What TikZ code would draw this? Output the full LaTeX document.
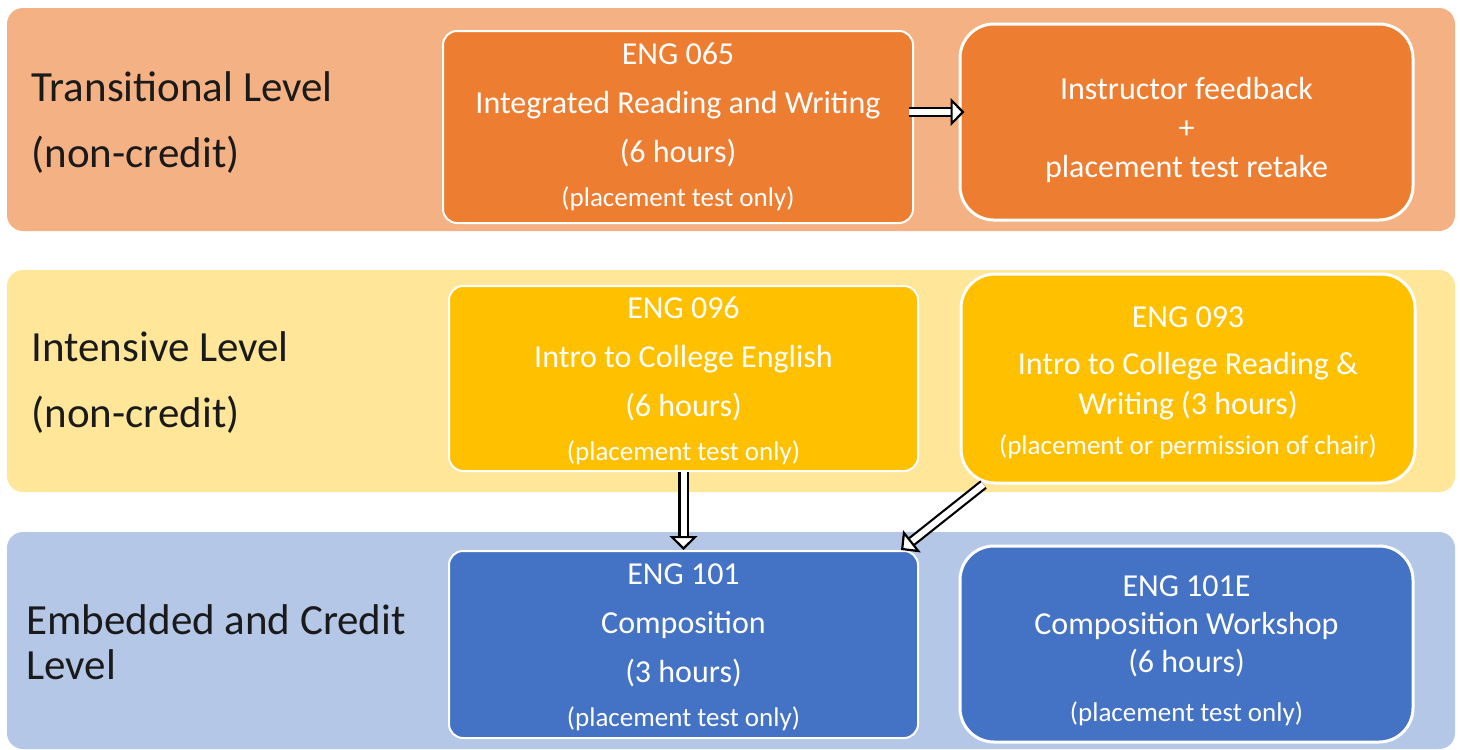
\documentclass[tikz,border=0pt]{standalone}
\usepackage{fontspec}
\setmainfont{Carlito}
\usetikzlibrary{arrows.meta}

\definecolor{bandorange}{HTML}{F4B183}
\definecolor{boxorange}{HTML}{ED7D31}
\definecolor{bandyellow}{HTML}{FFE699}
\definecolor{boxyellow}{HTML}{FFC000}
\definecolor{bandblue}{HTML}{B4C7E7}
\definecolor{boxblue}{HTML}{4472C4}
\definecolor{labeltext}{HTML}{1A1A1A}

\tikzset{
  band/.style={rounded corners=16pt},
  course/.style={draw=white, line width=2pt, rounded corners=14pt, inner sep=0pt},
  roundcourse/.style={course, line width=3pt, rounded corners=34pt},
  coursetext/.style={text=white, align=center, inner sep=0pt,
    font=\fontsize{32}{49}\selectfont},
  levellabel/.style={anchor=west, align=left, text=labeltext,
    font=\fontsize{43}{66}\selectfont},
  hollow/.style={draw=black, line width=2.2pt, double=white, double distance=6pt,
    -{Triangle[open, fill=white, length=14pt, width=28pt, line width=2.2pt]}},
}
\newcommand{\smallnote}[1]{{\fontsize{27}{30}\selectfont #1}}

\begin{document}
\begin{tikzpicture}[x=1pt,y=-1pt]
\useasboundingbox (0,0) rectangle (1460,750);

% level bands
\fill[band, bandorange] (7,8) rectangle (1455,231);
\fill[band, bandyellow] (7,270) rectangle (1455,492);
\fill[band, bandblue] (7,532) rectangle (1455,749);

% level names
\node[levellabel] (translabel) at (28,123) {Transitional Level\\(non-credit)};
\node[levellabel] (intenslabel) at (28,383) {Intensive Level\\(non-credit)};
\node[levellabel, font=\fontsize{43}{45}\selectfont] (credlabel) at (23,642)
  {Embedded and Credit\\Level};

% transitional
\node[course, fill=boxorange, minimum width=470pt, minimum height=192pt,
  label={[coursetext]center:{ENG 065\\Integrated Reading and Writing\\(6 hours)\\[-5pt]\smallnote{(placement test only)}}}]
  (e065) at (678,127) {};
\node[roundcourse, fill=boxorange, minimum width=453pt, minimum height=196pt,
  label={[coursetext, font=\fontsize{32}{39}\selectfont, yshift=-8pt]center:{Instructor feedback\\+\\placement test retake}}]
  (instr) at (1186.5,122) {};

% intensive
\node[course, fill=boxyellow, minimum width=469pt, minimum height=185pt,
  label={[coursetext, yshift=-2pt]center:{ENG 096\\Intro to College English\\(6 hours)\\[-5pt]\smallnote{(placement test only)}}}]
  (e096) at (683.5,378.5) {};
\node[roundcourse, fill=boxyellow, minimum width=454pt, minimum height=209pt,
  label={[coursetext, font=\fontsize{32}{40}\selectfont, yshift=-4pt]center:{ENG 093\\[7pt]Intro to College Reading \&\\Writing (3 hours)\\\smallnote{(placement or permission of chair)}}}]
  (e093) at (1188,378.5) {};

% embedded and credit
\node[course, fill=boxblue, minimum width=469pt, minimum height=187pt,
  label={[coursetext, yshift=-3pt]center:{ENG 101\\Composition\\(3 hours)\\[-5pt]\smallnote{(placement test only)}}}]
  (e101) at (683.5,644.5) {};
\node[roundcourse, fill=boxblue, minimum width=453pt, minimum height=196pt,
  label={[coursetext, font=\fontsize{32}{38}\selectfont, yshift=-7pt]center:{ENG 101E\\Composition Workshop\\(6 hours)\\[11pt]\smallnote{(placement test only)}}}]
  (e101e) at (1186.5,644) {};

% paths between courses
\draw[hollow] ([xshift=-5pt,yshift=15pt]e065.east) -- ([xshift=6pt,yshift=15pt]e065.east -| instr.west);
\draw[hollow] (e096.south) -- (e101.north);
\draw[hollow] ([xshift=24pt]e093.south west) -- ([xshift=-18pt]e101.north east);
\end{tikzpicture}
\end{document}
